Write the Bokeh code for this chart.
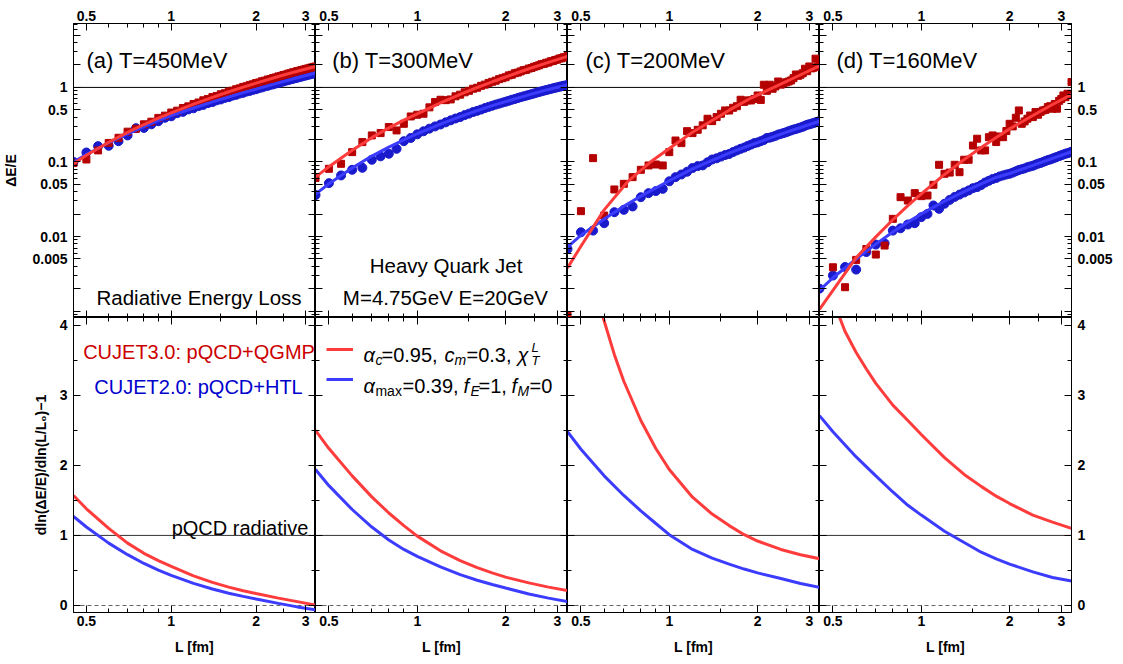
from bokeh.plotting import figure
from bokeh.models import (Range1d, FixedTicker, LogAxis, LinearAxis, Span, Label, Legend, LegendItem,
                          CustomLabelingPolicy)
from bokeh.layouts import row, column
from bokeh.embed import file_html
from bokeh.resources import INLINE

FONT = "Liberation Sans"

# ---------------- data ----------------
L_pts = [0.45, 0.50, 0.55, 0.60, 0.65, 0.70, 0.75, 0.80, 0.85, 0.90, 0.95, 1.00, 1.05, 1.10, 1.15,
         1.20, 1.25, 1.30, 1.35, 1.40, 1.45, 1.50, 1.55, 1.60, 1.65, 1.70, 1.75, 1.80, 1.85, 1.90,
         1.95, 2.00, 2.05, 2.10, 2.15, 2.20, 2.25, 2.30, 2.35, 2.40, 2.45, 2.50, 2.55, 2.60, 2.65,
         2.70, 2.75, 2.80, 2.85, 2.90, 2.95, 3.00, 3.05, 3.10, 3.15, 3.20, 3.25]

# simulated points: red squares (CUJET3.0), blue circles (CUJET2.0)
a_red_pts = [0.097, 0.108, 0.143, 0.180, 0.211, 0.255, 0.279, 0.32, 0.347, 0.39, 0.418, 0.46, 0.488, 0.53, 0.557,
             0.60, 0.628, 0.672, 0.70, 0.742, 0.768, 0.81, 0.836, 0.88, 0.905, 0.946, 0.972, 1.015, 1.038, 1.08,
             1.103, 1.145, 1.168, 1.21, 1.232, 1.275, 1.297, 1.34, 1.362, 1.405, 1.426, 1.468, 1.488, 1.53, 1.551,
             1.592, 1.613, 1.656, 1.674, 1.714, 1.732, 1.771, 1.789, 1.829, 1.847, 1.887, 1.905]
a_blue_pts = [0.10, 0.134, 0.163, 0.165, 0.19, 0.227, 0.284, 0.286, 0.32, 0.352, 0.392, 0.41, 0.452, 0.47, 0.507,
              0.525, 0.562, 0.582, 0.617, 0.636, 0.671, 0.69, 0.723, 0.741, 0.775, 0.795, 0.828, 0.846, 0.879, 0.897,
              0.929, 0.946, 0.98, 1.0, 1.032, 1.05, 1.082, 1.10, 1.13, 1.146, 1.18, 1.2, 1.232, 1.25, 1.281,
              1.30, 1.329, 1.346, 1.378, 1.395, 1.426, 1.443, 1.473, 1.49, 1.519, 1.535, 1.56]
b_red_pts = [0.061, 0.081, 0.0945, 0.1355, 0.1846, 0.227, 0.244, 0.294, 0.265, 0.325, 0.408, 0.43, 0.443, 0.54, 0.636,
             0.683, 0.675, 0.69, 0.76, 0.80, 0.86, 0.90, 0.96, 0.99, 1.05, 1.09, 1.15, 1.19, 1.23, 1.29,
             1.33, 1.37, 1.45, 1.48, 1.55, 1.58, 1.64, 1.70, 1.72, 1.79, 1.82, 1.89, 1.93, 1.98, 2.05,
             2.07, 2.14, 2.16, 2.24, 2.26, 2.33, 2.36, 2.44, 2.46, 2.53, 2.55, 2.63]
b_blue_pts = [0.036, 0.052, 0.066, 0.0785, 0.0835, 0.107, 0.119, 0.129, 0.150, 0.19, 0.21, 0.235, 0.258, 0.28, 0.30,
              0.318, 0.34, 0.362, 0.383, 0.40, 0.425, 0.445, 0.468, 0.485, 0.505, 0.528, 0.548, 0.568, 0.588, 0.606,
              0.625, 0.643, 0.662, 0.683, 0.70, 0.72, 0.74, 0.758, 0.776, 0.793, 0.812, 0.83, 0.85, 0.868, 0.886,
              0.904, 0.921, 0.938, 0.955, 0.972, 0.988, 1.003, 1.02, 1.035, 1.05, 1.064, 1.078]
c_red_pts = [0.00087, 0.0219, 0.1126, 0.0191, 0.0428, 0.0509, 0.0626, 0.0785, 0.0898, 0.0925, 0.0898, 0.1355, 0.194,
             0.179, 0.259, 0.244, 0.27, 0.31, 0.38, 0.353, 0.40, 0.443, 0.491, 0.49, 0.533, 0.56, 0.683, 0.64,
             0.67, 0.669, 0.70, 0.78, 0.68, 1.086, 0.90, 1.086, 0.96, 1.03, 1.2, 1.09, 1.14, 1.17, 1.2, 1.24,
             1.33, 1.49, 1.43, 1.48, 1.55, 1.78, 1.65, 1.91, 1.8, 1.84, 2.43, 1.9, 2.01]
c_blue_pts = [0.0068, 0.0114, 0.012, 0.0151, 0.0212, 0.0228, 0.0253, 0.0337, 0.0382, 0.0407, 0.0436, 0.055, 0.0626,
              0.068, 0.074, 0.083, 0.088, 0.09, 0.099, 0.108, 0.112, 0.118, 0.124, 0.128, 0.136, 0.143, 0.150,
              0.156, 0.164, 0.171, 0.179, 0.183, 0.19, 0.197, 0.21, 0.212, 0.218, 0.224, 0.233, 0.238, 0.244,
              0.25, 0.258, 0.265, 0.272, 0.277, 0.284, 0.29, 0.297, 0.306, 0.315, 0.32, 0.326, 0.333, 0.34,
              0.346, 0.352]
d_red_pts = [0.0005, 0.00387, 0.00209, 0.00486, 0.0068, 0.00573, 0.00757, 0.01726, 0.0337, 0.0304, 0.0382, 0.0348,
             0.0355, 0.0494, 0.0916, 0.0694, 0.072, 0.0916, 0.073, 0.107, 0.107, 0.166, 0.205, 0.143, 0.143,
             0.215, 0.227, 0.185, 0.22, 0.215, 0.26, 0.325, 0.30, 0.392, 0.491, 0.325, 0.35, 0.38, 0.42, 0.40,
             0.467, 0.43, 0.47, 0.491, 0.50, 0.545, 0.56, 0.518, 0.60, 0.518, 0.66, 0.70, 0.781, 0.74, 0.823,
             0.80, 1.18]
d_blue_pts = [0.0020, 0.0030, 0.0039, 0.0036, 0.0062, 0.0078, 0.0081, 0.0120, 0.0129, 0.0145, 0.0151, 0.0182,
              0.0201, 0.0261, 0.0235, 0.0275, 0.031, 0.034, 0.0365, 0.039, 0.0415, 0.0445, 0.046, 0.049, 0.053,
              0.056, 0.059, 0.061, 0.064, 0.066, 0.068, 0.0695, 0.072, 0.075, 0.078, 0.080, 0.082, 0.085, 0.087,
              0.089, 0.092, 0.095, 0.097, 0.100, 0.103, 0.106, 0.108, 0.111, 0.114, 0.117, 0.120, 0.123, 0.126,
              0.129, 0.131, 0.134, 0.137]

# fitted curves (top row: Delta E / E)
L_fit = [0.45, 0.5, 0.6, 0.7, 0.8, 0.9, 1.0, 1.2, 1.4, 1.6, 1.8, 2.0, 2.4, 2.8, 3.25]
a_red_fit = [0.095, 0.123, 0.184, 0.25, 0.318, 0.387, 0.455, 0.598, 0.737, 0.875, 1.01, 1.14, 1.40, 1.65, 1.91]
a_blue_fit = [0.1, 0.126, 0.181, 0.239, 0.299, 0.358, 0.418, 0.53, 0.64, 0.745, 0.85, 0.95, 1.15, 1.35, 1.56]
b_red_fit = [0.0625, 0.0865, 0.144, 0.212, 0.287, 0.365, 0.443, 0.621, 0.807, 0.997, 1.19, 1.38, 1.78, 2.17, 2.61]
b_blue_fit = [0.037, 0.051, 0.083, 0.12, 0.158, 0.198, 0.239, 0.321, 0.405, 0.488, 0.570, 0.645, 0.795, 0.94, 1.08]
c_red_fit_L = [0.45, 0.5, 0.54, 0.6, 0.72, 0.86, 1.0, 1.2, 1.6, 1.9, 2.27, 2.7, 3.25]
c_red_fit = [0.0038, 0.0074, 0.0119, 0.0228, 0.054, 0.099, 0.152, 0.25, 0.495, 0.72, 1.0, 1.38, 1.95]
c_blue_fit = [0.0072, 0.0104, 0.0172, 0.0255, 0.0348, 0.0447, 0.056, 0.081, 0.105, 0.131, 0.157, 0.182, 0.236, 0.29, 0.352]
d_red_fit = [0.00105, 0.0019, 0.0052, 0.0099, 0.0168, 0.026, 0.0374, 0.068, 0.108, 0.156, 0.213, 0.278, 0.42, 0.59, 0.80]
d_blue_fit = [0.0019, 0.0028, 0.0050, 0.0079, 0.0115, 0.0156, 0.0201, 0.0297, 0.040, 0.051, 0.062, 0.070, 0.090, 0.112, 0.137]

# bottom row: d ln(dE/E)/d ln(L/L0) - 1
a_red_d = [1.57, 1.38, 1.10, 0.89, 0.745, 0.64, 0.557, 0.422, 0.33, 0.262, 0.21, 0.17, 0.105, 0.055, 0.005]
a_blue_d = [1.27, 1.12, 0.89, 0.725, 0.60, 0.505, 0.43, 0.315, 0.235, 0.175, 0.13, 0.093, 0.03, -0.02, -0.062]
b_red_d = [2.50, 2.24, 1.85, 1.55, 1.32, 1.14, 0.99, 0.78, 0.64, 0.54, 0.465, 0.405, 0.323, 0.262, 0.214]
b_blue_d = [1.94, 1.71, 1.37, 1.12, 0.935, 0.80, 0.70, 0.55, 0.44, 0.36, 0.30, 0.25, 0.165, 0.105, 0.057]
c_red_d_L = [0.595, 0.65, 0.7, 0.8, 0.9, 1.0, 1.2, 1.4, 1.6, 1.8, 2.0, 2.4, 2.8, 3.25]
c_red_d = [4.11, 3.58, 3.20, 2.64, 2.24, 1.94, 1.545, 1.305, 1.14, 1.01, 0.92, 0.80, 0.725, 0.667]
c_blue_d = [2.48, 2.23, 1.85, 1.57, 1.35, 1.17, 1.01, 0.80, 0.675, 0.59, 0.52, 0.465, 0.385, 0.315, 0.26]
d_red_d_L = [0.527, 0.55, 0.6, 0.65, 0.7, 0.8, 0.9, 1.0, 1.2, 1.4, 1.6, 1.8, 2.0, 2.4, 2.8, 3.25]
d_red_d = [4.11, 3.91, 3.61, 3.375, 3.17, 2.86, 2.64, 2.44, 2.11, 1.87, 1.70, 1.56, 1.455, 1.29, 1.19, 1.10]
d_blue_d = [2.71, 2.48, 2.12, 1.85, 1.62, 1.43, 1.29, 1.06, 0.90, 0.76, 0.665, 0.59, 0.48, 0.40, 0.35]

panel_titles = ["(a) T=450MeV", "(b) T=300MeV", "(c) T=200MeV", "(d) T=160MeV"]

x_ticks = [0.5, 1.0, 2.0, 3.0]
x_minor = [0.6, 0.7, 0.8, 0.9, 1.5, 2.5]
x_labels = {0.5: "0.5", 1.0: "1", 2.0: "2", 3.0: "3"}
ytop_ticks = [0.001, 0.002, 0.005, 0.01, 0.02, 0.05, 0.1, 0.2, 0.5, 1.0, 2.0, 5.0]
ytop_minor = [0.0009, 0.003, 0.004, 0.006, 0.007, 0.008, 0.009, 0.03, 0.04, 0.06, 0.07, 0.08, 0.09,
              0.3, 0.4, 0.6, 0.7, 0.8, 0.9, 3.0, 4.0, 6.0, 7.0]
ytop_labels = {0.001: "", 0.002: "", 0.005: "0.005", 0.01: "0.01", 0.02: "", 0.05: "0.05", 0.1: "0.1",
               0.2: "", 0.5: "0.5", 1.0: "1", 2.0: "", 5.0: ""}
ybot_ticks = [0, 1, 2, 3, 4]
ybot_minor = [0.5, 1.5, 2.5, 3.5]

# ---------------- style ----------------
RED_LINE = "#ff3c3c"
BLUE_LINE = "#3c3cff"
RED_PT = "#b40000"
BLUE_PT = "#1a1acd"
RED_TXT = "#cc0000"
BLUE_TXT = "#0000cc"

FRAME_W = [242, 252, 252, 252]
LEFT, RIGHT, TOP, BOTTOM = 73, 51, 23, 52
TOP_H, BOT_H = 294, 295
X_RANGE = (0.45, 3.25)
TOP_Y = (8.2e-4, 7.2)
BOT_Y = (-0.1, 4.11)

NO_LABELS = "for (const i of indices) indices.unset(i)"


def style_axis(ax, show):
    ax.axis_line_color = "black"
    ax.axis_line_width = 1
    ax.major_tick_line_color = "black"
    ax.minor_tick_line_color = "black"
    ax.major_tick_in = 7
    ax.major_tick_out = 0
    ax.minor_tick_in = 4
    ax.minor_tick_out = 0
    if show:
        ax.major_label_text_font = FONT
        ax.major_label_text_font_size = "14px"
        ax.major_label_text_font_style = "bold"
        ax.major_label_text_color = "black"
        ax.axis_label_text_font = FONT
        ax.axis_label_text_font_size = "14px"
        ax.axis_label_text_font_style = "bold"
        ax.axis_label_text_color = "black"
    else:
        ax.major_label_text_font_size = "0px"
        ax.major_label_standoff = 0
        ax.major_label_policy = CustomLabelingPolicy(code=NO_LABELS)


def new_fig(i, top):
    ml = LEFT if i == 0 else 0
    mr = RIGHT if i == 3 else 0
    mt = TOP if top else 0
    mb = 0 if top else BOTTOM
    p = figure(width=FRAME_W[i] + ml + mr, height=(TOP_H if top else BOT_H) + mt + mb,
               x_axis_type="log", y_axis_type="log" if top else "linear",
               x_range=Range1d(*X_RANGE), y_range=Range1d(*(TOP_Y if top else BOT_Y)),
               x_axis_location=None, y_axis_location=None,
               toolbar_location=None, output_backend="svg",
               min_border_left=ml, min_border_right=mr, min_border_top=mt, min_border_bottom=mb)
    p.grid.visible = False
    p.outline_line_color = "black"
    p.outline_line_width = 1
    p.background_fill_color = "white"
    p.border_fill_color = "white"

    for loc in ("above", "below"):
        ax = LogAxis(ticker=FixedTicker(ticks=x_ticks, minor_ticks=x_minor), major_label_overrides=x_labels)
        show = (loc == "above") if top else (loc == "below")
        style_axis(ax, show)
        if show:
            ax.major_label_standoff = 3
        if show and not top:
            ax.axis_label = "L [fm]"
            ax.axis_label_standoff = 10
        p.add_layout(ax, loc)

    for loc in ("left", "right"):
        if top:
            ax = LogAxis(ticker=FixedTicker(ticks=ytop_ticks, minor_ticks=ytop_minor),
                         major_label_overrides=ytop_labels)
        else:
            ax = LinearAxis(ticker=FixedTicker(ticks=ybot_ticks, minor_ticks=ybot_minor))
        show = (loc == "left" and i == 0) or (loc == "right" and i == 3)
        style_axis(ax, show)
        if show:
            ax.major_label_standoff = 6
        if show and loc == "left":
            if top:
                ax.axis_label = "ΔE/E"
                ax.axis_label_standoff = 10
            else:
                ax.axis_label = "dln(ΔE/E)/dln(L/L₀)−1"
                ax.axis_label_standoff = 8
        p.add_layout(ax, loc)
    return p


def add_text(p, x, y, text, size="20px", color="black", align="left", style="normal", xo=0, yo=0):
    p.add_layout(Label(x=x, y=y, text=text, text_font=FONT, text_font_size=size, text_color=color,
                       text_align=align, text_font_style=style, text_baseline="alphabetic",
                       x_offset=xo, y_offset=yo))


top_sets = [
    (a_red_pts, a_blue_pts, L_fit, a_red_fit, a_blue_fit),
    (b_red_pts, b_blue_pts, L_fit, b_red_fit, b_blue_fit),
    (c_red_pts, c_blue_pts, c_red_fit_L, c_red_fit, c_blue_fit),
    (d_red_pts, d_blue_pts, L_fit, d_red_fit, d_blue_fit),
]
bot_sets = [
    (L_fit, a_red_d, a_blue_d),
    (L_fit, b_red_d, b_blue_d),
    (c_red_d_L, c_red_d, c_blue_d),
    (d_red_d_L, d_red_d, d_blue_d),
]
title_x = [0.5005, 0.513, 0.518, 0.514]

top_figs, bot_figs = [], []
for i in range(4):
    p = new_fig(i, True)
    rp, bp, rL, rf, bf = top_sets[i]
    p.add_layout(Span(location=1.0, dimension="width", line_color="black", line_width=1, level="underlay"))
    p.scatter(L_pts, bp, marker="circle", size=9, fill_color=BLUE_PT, line_color=BLUE_PT)
    p.scatter(L_pts, rp, marker="square", size=7, fill_color=RED_PT, line_color=RED_PT)
    p.line(L_fit, bf, line_color=BLUE_LINE, line_width=3)
    p.line(rL, rf, line_color=RED_LINE, line_width=3)
    add_text(p, title_x[i], 2.30, panel_titles[i], size="22px")
    top_figs.append(p)

    g = new_fig(i, False)
    rL2, rd, bd = bot_sets[i]
    g.add_layout(Span(location=1.0, dimension="width", line_color="#333333", line_width=1, level="underlay"))
    g.add_layout(Span(location=0.0, dimension="width", line_color="#666666", line_width=1,
                      line_dash="4 3", level="underlay"))
    rb = g.line(L_fit, bd, line_color=BLUE_LINE, line_width=3)
    rr = g.line(rL2, rd, line_color=RED_LINE, line_width=3)
    bot_figs.append((g, rr, rb))

# annotations
add_text(top_figs[0], 1.255, 0.00152, "Radiative Energy Loss", size="20.5px", align="center")
add_text(top_figs[1], 1.253, 0.00408, "Heavy Quark Jet", size="20.5px", align="center")
add_text(top_figs[1], 1.247, 0.00153, "M=4.75GeV E=20GeV", size="20.5px", align="center")

ga = bot_figs[0][0]
add_text(ga, 1.255, 3.614, "CUJET3.0: pQCD+QGMP", color=RED_TXT, align="center")
add_text(ga, 1.25, 3.114, "CUJET2.0: pQCD+HTL", color=BLUE_TXT, align="center")
add_text(ga, 1.754, 1.10, "pQCD radiative", align="center")

gb, rr_b, rb_b = bot_figs[1]
legend = Legend(items=[LegendItem(label=" ", renderers=[rr_b]), LegendItem(label=" ", renderers=[rb_b])],
                location=(11, 223), padding=0, margin=0, spacing=10, glyph_width=27, glyph_height=20,
                label_height=20, label_width=1, label_standoff=0, label_text_font_size="1px",
                border_line_alpha=0, background_fill_alpha=0)
gb.add_layout(legend)

LX = 0.6556
Y1, Y2 = 3.571, 3.129
leg1 = [("α", 0, "20px", "italic", 0), ("c", 12, "14px", "italic", -5), ("=0.95, ", 18, "20px", "normal", 0),
        ("c", 81, "20px", "italic", 0), ("m", 91, "14px", "italic", -5), ("=0.3, ", 103, "20px", "normal", 0),
        ("χ", 154, "20px", "italic", 0), ("L", 168, "13px", "italic", 8), ("T", 168, "13px", "italic", -5)]
leg2 = [("α", 0, "20px", "italic", 0), ("max", 12, "14px", "normal", -5), ("=0.39, ", 39, "20px", "normal", 0),
        ("f", 100, "20px", "italic", 0), ("E", 107, "14px", "italic", -5), ("=1, ", 115, "20px", "normal", 0),
        ("f", 148, "20px", "italic", 0), ("M", 154, "14px", "italic", -5), ("=0", 166, "20px", "normal", 0)]
for txt, xo, sz, st, yo in leg1:
    add_text(gb, LX, Y1, txt, size=sz, style=st, xo=xo, yo=yo)
for txt, xo, sz, st, yo in leg2:
    add_text(gb, LX, Y2, txt, size=sz, style=st, xo=xo, yo=yo)

layout = column(row(*top_figs), row(*[b[0] for b in bot_figs]))
open("out.html", "w").write(file_html(layout, INLINE))
